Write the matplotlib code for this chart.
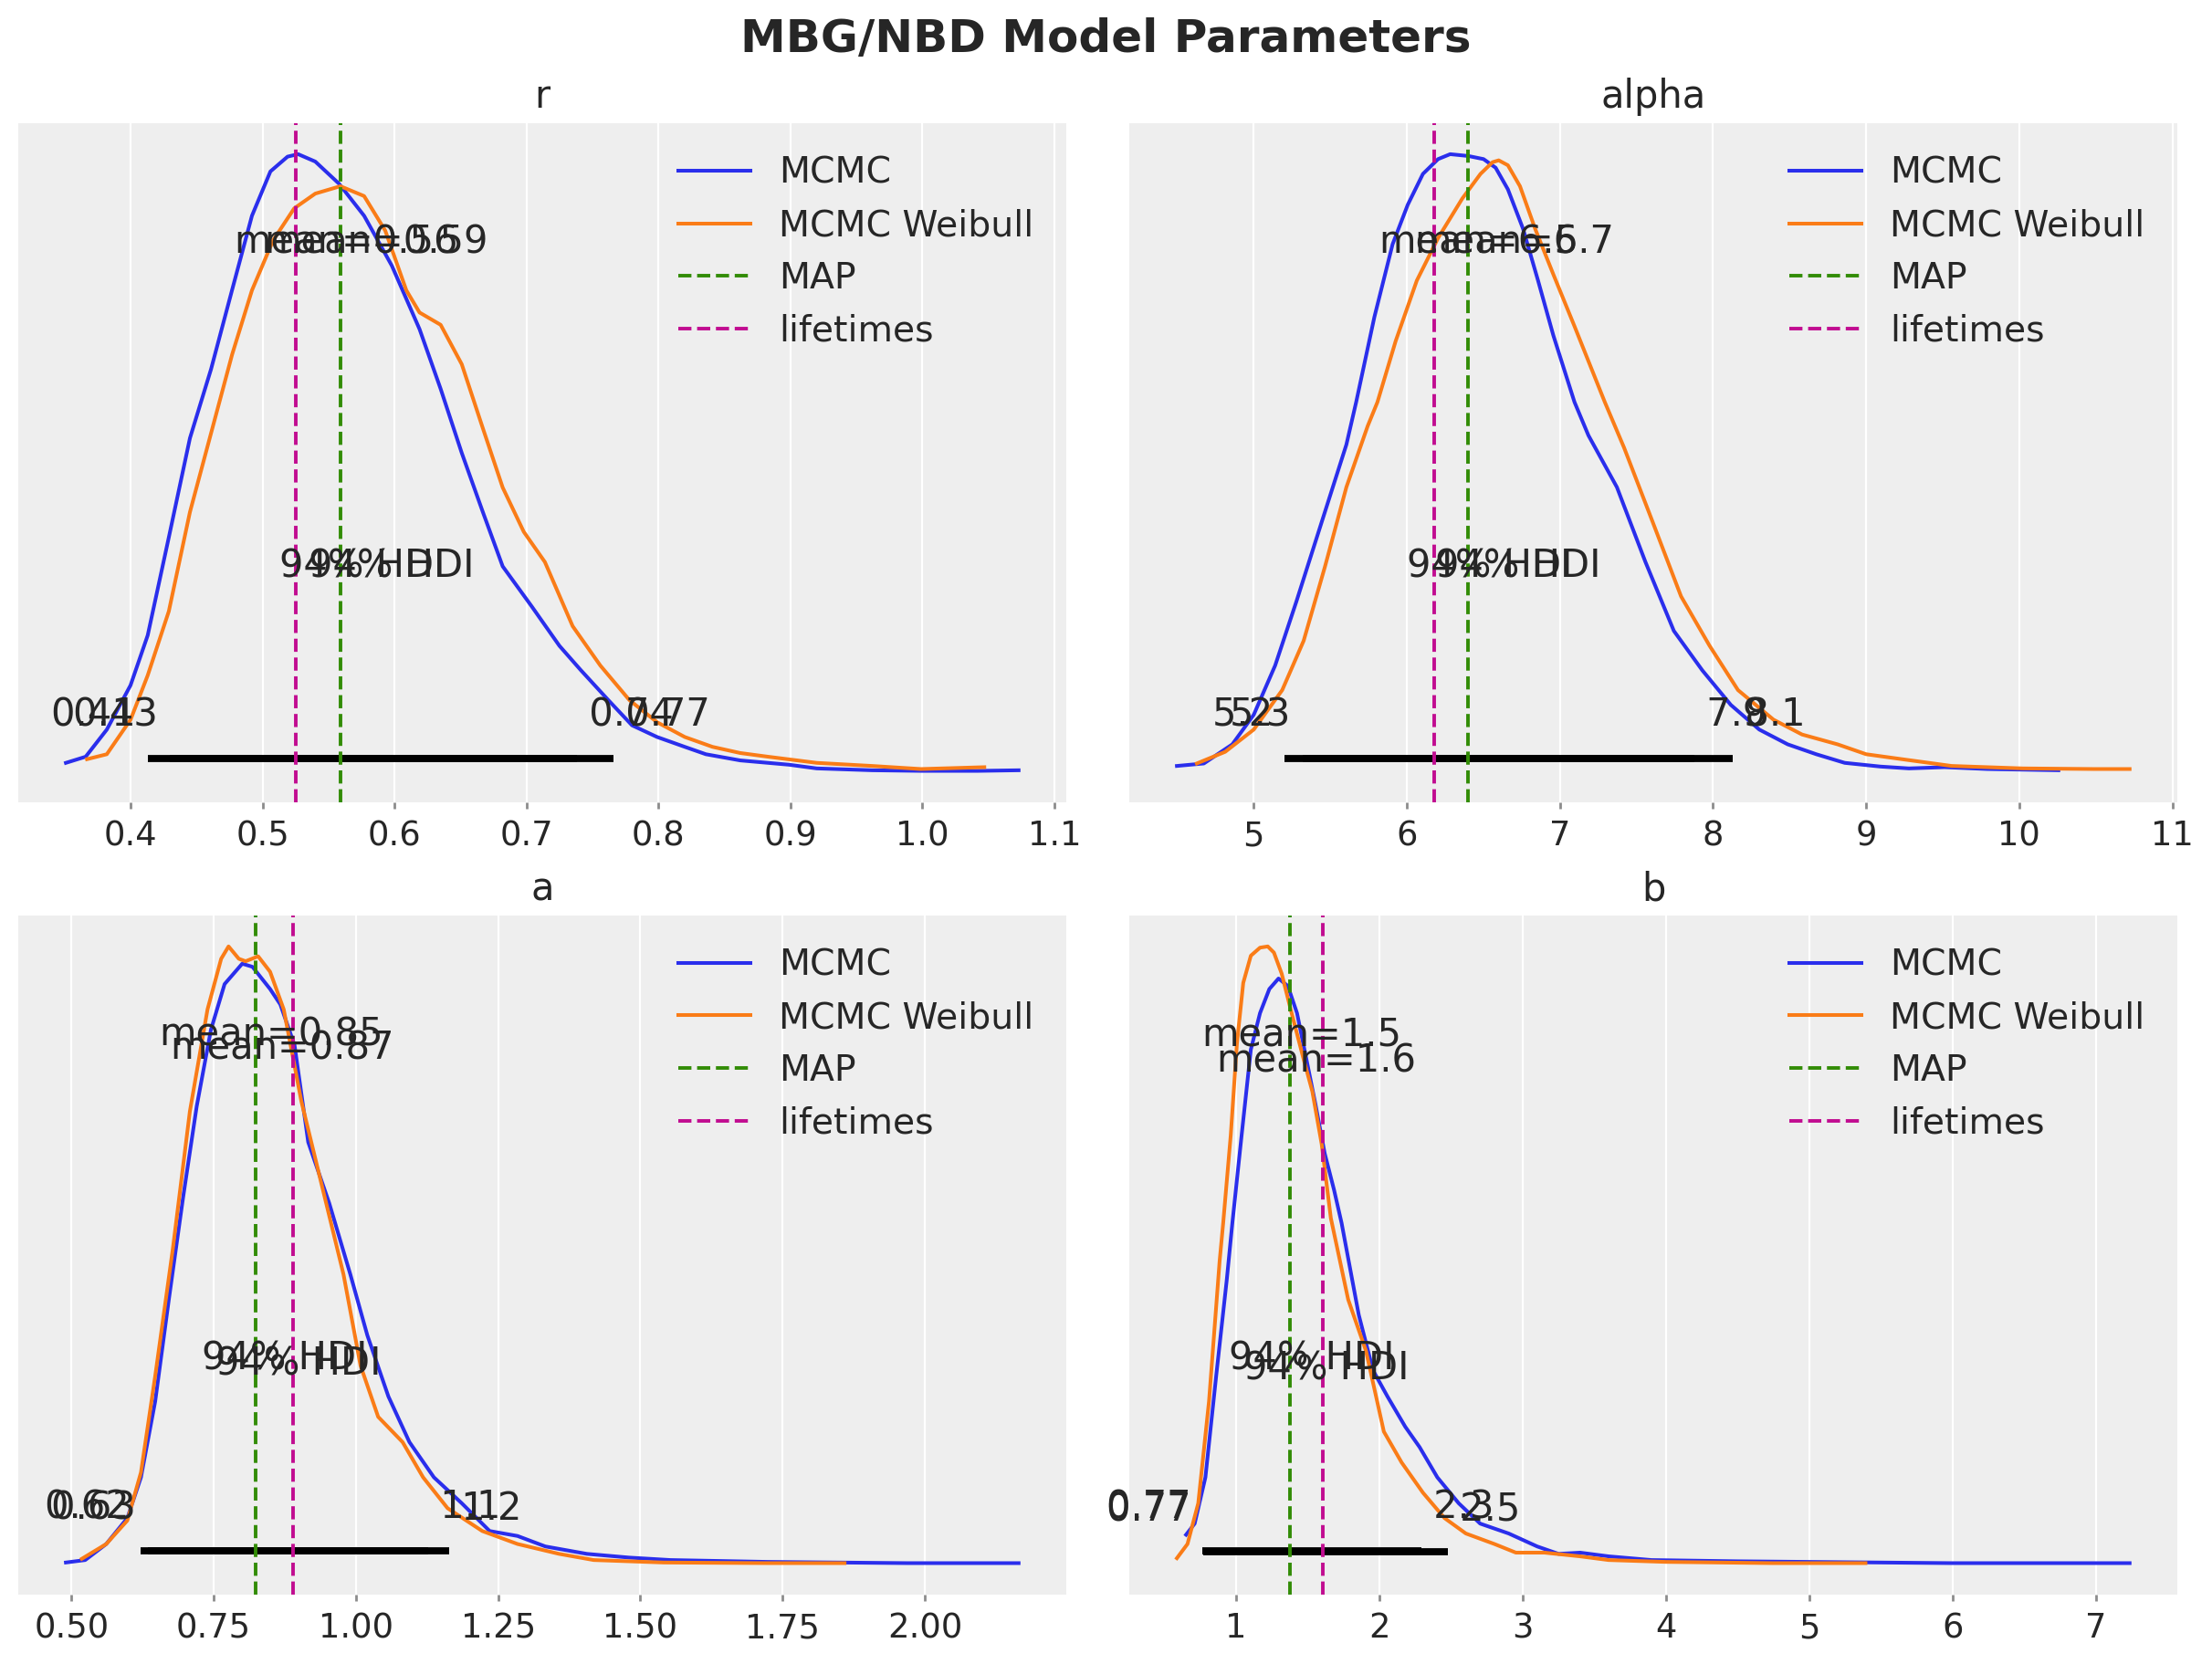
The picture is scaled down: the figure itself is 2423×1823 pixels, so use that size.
import numpy as np
import matplotlib.pyplot as plt

# posterior densities (x, relative density)
# --- r ---
r_x_mcmc = [0.351, 0.366, 0.382, 0.400, 0.413, 0.429, 0.445, 0.461, 0.477, 0.492, 0.506, 0.519, 0.527,
            0.540, 0.558, 0.577, 0.598, 0.619, 0.635, 0.651, 0.667, 0.682, 0.704, 0.725, 0.741, 0.762,
            0.780, 0.799, 0.820, 0.836, 0.862, 0.899, 0.920, 0.962, 0.999, 1.042, 1.073]
r_y_mcmc = [0.014, 0.024, 0.068, 0.140, 0.221, 0.380, 0.541, 0.653, 0.782, 0.902, 0.974, 0.998, 1.002,
            0.990, 0.954, 0.902, 0.821, 0.718, 0.621, 0.517, 0.421, 0.333, 0.268, 0.204, 0.165, 0.116,
            0.075, 0.056, 0.040, 0.028, 0.018, 0.011, 0.005, 0.002, 0.001, 0.001, 0.002]
r_x_weib = [0.367, 0.382, 0.400, 0.413, 0.429, 0.445, 0.461, 0.477, 0.492, 0.508, 0.524, 0.540, 0.559,
            0.577, 0.593, 0.609, 0.619, 0.635, 0.651, 0.667, 0.682, 0.698, 0.714, 0.735, 0.756, 0.778,
            0.799, 0.820, 0.841, 0.862, 0.883, 0.920, 0.962, 0.999, 1.047]
r_y_weib = [0.020, 0.028, 0.084, 0.156, 0.260, 0.421, 0.549, 0.677, 0.781, 0.862, 0.914, 0.938, 0.950,
            0.934, 0.878, 0.781, 0.745, 0.725, 0.661, 0.557, 0.461, 0.389, 0.340, 0.236, 0.172, 0.116,
            0.080, 0.056, 0.040, 0.030, 0.024, 0.014, 0.009, 0.004, 0.007]

# --- alpha ---
alpha_x_mcmc = [4.498, 4.674, 4.860, 5.000, 5.140, 5.279, 5.465, 5.605, 5.669, 5.788, 5.907, 6.006, 6.105,
                6.204, 6.283, 6.402, 6.501, 6.580, 6.660, 6.759, 6.857, 6.957, 7.095, 7.186, 7.372, 7.558,
                7.744, 7.930, 8.116, 8.302, 8.488, 8.674, 8.860, 9.093, 9.279, 9.512, 9.791, 10.256]
alpha_y_mcmc = [0.009, 0.013, 0.044, 0.092, 0.172, 0.276, 0.421, 0.530, 0.599, 0.737, 0.855, 0.919, 0.969,
                0.993, 1.001, 0.998, 0.993, 0.979, 0.944, 0.880, 0.796, 0.707, 0.599, 0.545, 0.461, 0.340,
                0.228, 0.164, 0.108, 0.068, 0.044, 0.028, 0.014, 0.008, 0.005, 0.007, 0.004, 0.002]
alpha_x_weib = [4.628, 4.814, 5.000, 5.186, 5.326, 5.465, 5.605, 5.744, 5.808, 5.927, 6.065, 6.204, 6.362,
                6.481, 6.560, 6.600, 6.660, 6.739, 6.838, 6.957, 7.095, 7.293, 7.419, 7.605, 7.791, 7.977,
                8.163, 8.395, 8.581, 8.814, 9.000, 9.233, 9.558, 10.023, 10.488, 10.721]
alpha_y_weib = [0.013, 0.032, 0.068, 0.132, 0.212, 0.332, 0.461, 0.560, 0.599, 0.698, 0.796, 0.865, 0.929,
                0.969, 0.988, 0.991, 0.983, 0.949, 0.880, 0.806, 0.722, 0.599, 0.525, 0.405, 0.284, 0.204,
                0.132, 0.084, 0.060, 0.044, 0.028, 0.020, 0.009, 0.005, 0.004, 0.004]

# --- a ---
a_x_mcmc = [0.490, 0.524, 0.561, 0.598, 0.622, 0.647, 0.671, 0.696, 0.720, 0.745, 0.769, 0.800, 0.818,
            0.849, 0.867, 0.892, 0.916, 0.953, 0.990, 1.020, 1.057, 1.094, 1.137, 1.186, 1.235, 1.284,
            1.333, 1.406, 1.480, 1.553, 1.724, 1.969, 2.165]
a_y_mcmc = [0.002, 0.006, 0.032, 0.074, 0.140, 0.263, 0.428, 0.593, 0.741, 0.865, 0.939, 0.972, 0.967,
            0.931, 0.906, 0.840, 0.683, 0.584, 0.469, 0.370, 0.271, 0.197, 0.140, 0.098, 0.053, 0.045,
            0.028, 0.016, 0.010, 0.006, 0.003, 0.001, 0.001]
a_x_weib = [0.518, 0.561, 0.598, 0.622, 0.647, 0.678, 0.708, 0.739, 0.763, 0.776, 0.794, 0.806, 0.828,
            0.849, 0.873, 0.904, 0.941, 0.978, 1.008, 1.039, 1.082, 1.118, 1.161, 1.222, 1.284, 1.357,
            1.418, 1.541, 1.724, 1.859]
a_y_weib = [0.008, 0.032, 0.070, 0.148, 0.304, 0.510, 0.733, 0.898, 0.980, 1.000, 0.980, 0.976, 0.984,
            0.959, 0.898, 0.749, 0.609, 0.469, 0.321, 0.238, 0.197, 0.140, 0.090, 0.053, 0.032, 0.016,
            0.006, 0.002, 0.001, 0.001]

# --- b ---
b_x_mcmc = [0.651, 0.711, 0.786, 0.861, 0.935, 0.974, 1.039, 1.103, 1.167, 1.232, 1.296, 1.361, 1.425,
            1.490, 1.554, 1.618, 1.683, 1.736, 1.856, 1.956, 2.056, 2.180, 2.280, 2.404, 2.553, 2.703,
            2.902, 3.101, 3.250, 3.400, 3.599, 3.898, 4.495, 4.993, 5.989, 7.234]
b_y_mcmc = [0.047, 0.065, 0.140, 0.304, 0.460, 0.552, 0.695, 0.833, 0.892, 0.931, 0.948, 0.936, 0.892,
            0.818, 0.744, 0.665, 0.606, 0.552, 0.403, 0.313, 0.271, 0.222, 0.189, 0.140, 0.098, 0.065,
            0.049, 0.028, 0.016, 0.018, 0.012, 0.006, 0.004, 0.003, 0.001, 0.001]
b_x_weib = [0.587, 0.661, 0.736, 0.811, 0.885, 0.910, 0.963, 1.006, 1.050, 1.103, 1.167, 1.221, 1.264,
            1.318, 1.382, 1.468, 1.532, 1.597, 1.661, 1.782, 1.906, 2.031, 2.155, 2.304, 2.454, 2.603,
            2.802, 2.952, 3.151, 3.400, 3.599, 3.997, 4.744, 5.391]
b_y_weib = [0.009, 0.032, 0.098, 0.263, 0.490, 0.552, 0.695, 0.843, 0.941, 0.985, 0.998, 1.000, 0.990,
            0.956, 0.897, 0.820, 0.765, 0.680, 0.560, 0.428, 0.345, 0.214, 0.164, 0.115, 0.074, 0.049,
            0.032, 0.018, 0.018, 0.012, 0.006, 0.003, 0.001, 0.001]

# summary numbers: mean and 94% HDI per model, plus MAP and lifetimes estimates
params = ["r", "alpha", "a", "b"]
mean_mcmc = [0.563, 6.47, 0.870, 1.56]
mean_weib = [0.586, 6.70, 0.851, 1.46]
hdi_mcmc = [(0.413, 0.738), (5.20, 7.88), (0.634, 1.164), (0.772, 2.48)]
hdi_weib = [(0.430, 0.766), (5.32, 8.13), (0.622, 1.127), (0.766, 2.294)]
map_vals = [0.559, 6.40, 0.824, 1.373]
lifetimes_vals = [0.525, 6.18, 0.889, 1.607]

xticks = [[0.4, 0.5, 0.6, 0.7, 0.8, 0.9, 1.0, 1.1],
          [5, 6, 7, 8, 9, 10, 11],
          [0.50, 0.75, 1.00, 1.25, 1.50, 1.75, 2.00],
          [1, 2, 3, 4, 5, 6, 7]]
xtick_labels = [["0.4", "0.5", "0.6", "0.7", "0.8", "0.9", "1.0", "1.1"],
                ["5", "6", "7", "8", "9", "10", "11"],
                ["0.50", "0.75", "1.00", "1.25", "1.50", "1.75", "2.00"],
                ["1", "2", "3", "4", "5", "6", "7"]]

curves = [(r_x_mcmc, r_y_mcmc, r_x_weib, r_y_weib),
          (alpha_x_mcmc, alpha_y_mcmc, alpha_x_weib, alpha_y_weib),
          (a_x_mcmc, a_y_mcmc, a_x_weib, a_y_weib),
          (b_x_mcmc, b_y_mcmc, b_x_weib, b_y_weib)]

BLUE = "#2a2eec"
ORANGE = "#fa7c17"
GREEN = "#328c06"
MAGENTA = "#c10c90"
TEXT = "#262626"
LABEL_SIZE = 15

plt.rcParams["font.family"] = "DejaVu Sans"
plt.rcParams["text.color"] = TEXT


def posterior(ax, x, y, mean, hdi, color, label, height):
    # arviz-like posterior: kde line, mean label, hdi bar and labels
    ax.plot(x, y, color=color, lw=1.45, label=label, solid_joinstyle="round")
    ax.text(mean, height * 0.8, f"mean={mean:.2g}", ha="center", fontsize=LABEL_SIZE)
    ax.plot(hdi, [height * 0.02, height * 0.02], lw=2.8, color="k", solid_capstyle="butt")
    ax.text(hdi[0], height * 0.07, f"{hdi[0]:.2g} ", ha="right", fontsize=LABEL_SIZE)
    ax.text(hdi[1], height * 0.07, f" {hdi[1]:.2g}", ha="left", fontsize=LABEL_SIZE)
    ax.text((hdi[0] + hdi[1]) / 2, height * 0.3, "94% HDI", ha="center", fontsize=LABEL_SIZE)


fig, axes = plt.subplots(2, 2, figsize=(12.115, 9.115), dpi=200)
fig.subplots_adjust(left=0.00825, right=0.9843, top=0.9259, bottom=0.0417,
                    wspace=0.0601, hspace=0.1667)

for i, ax in enumerate(axes.flat):
    xm, ym, xw, yw = curves[i]
    h1 = 1.05 * max(ym)
    h2 = 1.05 * max(max(ym), max(yw))

    ax.set_facecolor("#eeeeee")
    for s in ax.spines.values():
        s.set_visible(False)
    ax.grid(axis="x", color="white", lw=0.8)
    ax.set_axisbelow(True)

    posterior(ax, xm, ym, mean_mcmc[i], hdi_mcmc[i], BLUE, "MCMC", h1)
    posterior(ax, xw, yw, mean_weib[i], hdi_weib[i], ORANGE, "MCMC Weibull", h2)
    ax.axvline(map_vals[i], color=GREEN, ls="--", lw=1.4, label="MAP")
    ax.axvline(lifetimes_vals[i], color=MAGENTA, ls="--", lw=1.4, label="lifetimes")

    ax.set_ylim(-0.05 * h2 / 1.05, h2)
    ax.set_yticks([])
    ax.set_xticks(xticks[i])
    ax.set_xticklabels(xtick_labels[i])
    ax.tick_params(axis="x", length=2.6, width=1.0, color="0.55", labelsize=13.3,
                   labelcolor=TEXT, pad=4)
    ax.set_title(params[i], fontsize=LABEL_SIZE, color=TEXT)
    ax.legend(loc="upper right", frameon=False, fontsize=14.2)

fig.suptitle("MBG/NBD Model Parameters", fontsize=18, fontweight="bold", y=0.9687, va="baseline")
plt.savefig("out.png", dpi=200)
